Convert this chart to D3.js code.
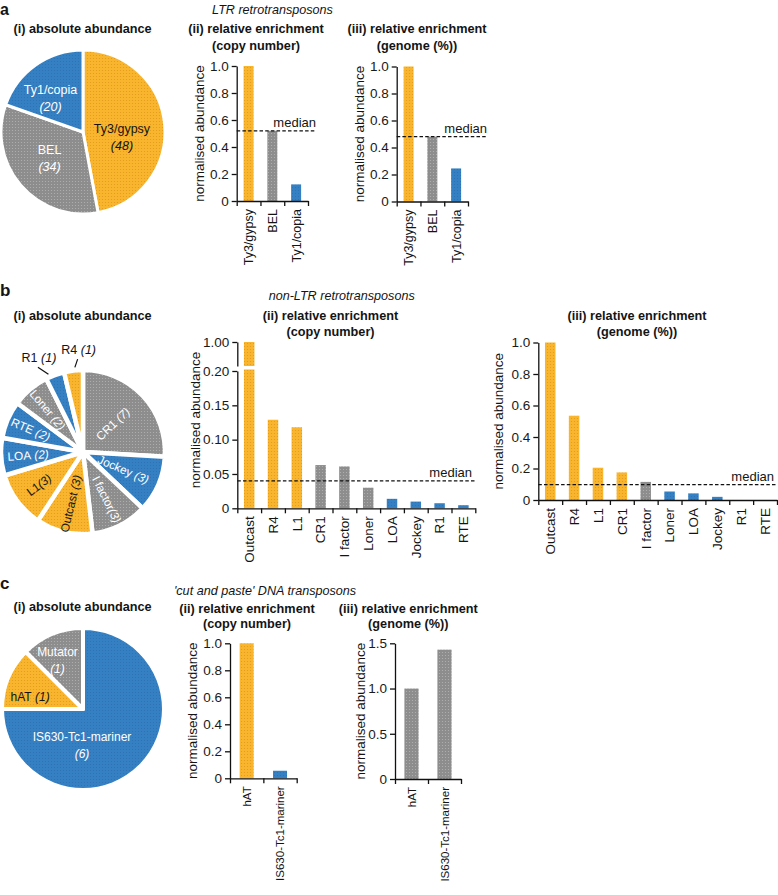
<!DOCTYPE html>
<html><head><meta charset="utf-8">
<script src="https://cdn.jsdelivr.net/npm/d3@7"></script>
<style>
body{margin:0;background:#fff;}
svg{display:block;font-family:"Liberation Sans",Arial,Helvetica,sans-serif;}
.axis path,.axis line{stroke:#111;stroke-width:1.3px;}
.axis text{font-size:13.5px;fill:#1a1a1a;font-family:"Liberation Sans",Arial,sans-serif;}
</style></head><body>
<script>
// ---------------- DATA ----------------
const ltrFamilies = ["Ty3/gypsy","BEL","Ty1/copia"];
const ltrCounts = [48,34,20];
const ltrPieColors = ["Y","G","B"];
const ltrCopyValues = [1.0,0.52,0.123];
const ltrCopyColors = ["Y","G","B"];
const ltrCopyMedian = 0.52;
const ltrGenomeValues = [1.0,0.48,0.245];
const ltrGenomeColors = ["Y","G","B"];
const ltrGenomeMedian = 0.48;
const ltrTicks = [0,0.2,0.4,0.6,0.8,1.0];

const nonLtrPieFamilies = ["CR1","Jockey","I factor","Outcast","L1","LOA","RTE","Loner","R1","R4"];
const nonLtrPieCounts = [7,3,3,3,3,2,2,2,1,1];
const nonLtrPieColors = ["G","B","G","Y","Y","B","B","G","B","Y"];
const nonLtrBarFamilies = ["Outcast","R4","L1","CR1","I factor","Loner","LOA","Jockey","R1","RTE"];
const nonLtrCopyValues = [1.0,0.129,0.118,0.063,0.061,0.030,0.0138,0.0098,0.0074,0.0045];
const nonLtrCopyColors = ["Y","Y","Y","G","G","G","B","B","B","B"];
const nonLtrCopyMedian = 0.040;
const nonLtrCopyTicksLow = [0,0.05,0.10,0.15,0.20];
const nonLtrCopyTicksHigh = [1.00];
const nonLtrGenomeValues = [1.0,0.535,0.205,0.175,0.115,0.054,0.042,0.02,0,0];
const nonLtrGenomeColors = ["Y","Y","Y","Y","G","B","B","B","B","B"];
const nonLtrGenomeMedian = 0.097;
const nonLtrGenomeTicks = [0,0.2,0.4,0.6,0.8,1.0];

const dnaPieFamilies = ["IS630-Tc1-mariner","hAT","Mutator"];
const dnaPieCounts = [6,1,1];
const dnaPieColors = ["B","Y","G"];
const dnaBarFamilies = ["hAT","IS630-Tc1-mariner"];
const dnaCopyValues = [1.0,0.056];
const dnaCopyColors = ["Y","B"];
const dnaGenomeValues = [1.0,1.43];
const dnaGenomeColors = ["G","G"];
const dnaCopyTicks = [0,0.2,0.4,0.6,0.8,1.0];
const dnaGenomeTicks = [0,0.5,1.0,1.5];

// ---------------- SETUP ----------------
const W = 778, H = 895;
const svg = d3.select("body").append("svg").attr("width",W).attr("height",H);
const defs = svg.append("defs");
const palette = {
  Y:{base:"#F8B52D",dot:"#E2981C"},
  G:{base:"#8D8D8D",dot:"#B3B3B3"},
  B:{base:"#3580C3",dot:"#2B6FAF"}
};
Object.entries(palette).forEach(([k,c])=>{
  const p = defs.append("pattern").attr("id","pat"+k).attr("patternUnits","userSpaceOnUse")
    .attr("width",3).attr("height",3);
  p.append("rect").attr("width",3).attr("height",3).attr("fill",c.base);
  p.append("circle").attr("cx",1.5).attr("cy",1.5).attr("r",0.6).attr("fill",c.dot);
});
const fill = k => `url(#pat${k})`;
const INK = "#141414";

function text(x,y,str,opts={}){
  const t = svg.append("text").attr("x",x).attr("y",y)
    .attr("text-anchor",opts.anchor||"middle")
    .style("font-size",(opts.size||12.7)+"px")
    .style("font-weight",opts.bold?"bold":"normal")
    .style("font-style",opts.italic?"italic":"normal")
    .attr("fill",opts.fill||INK).text(str);
  return t;
}
function title2(cx,y1,y2,l1,l2){
  text(cx,y1,l1,{bold:true});
  text(cx,y2,l2,{bold:true});
}

function styleAxis(sel){ sel.attr("class","axis"); sel.select(".domain").attr("stroke","#111"); }

function barChart(cfg){
  const g = svg.append("g");
  const n = cfg.cats.length;
  const x = d3.scaleBand().domain(cfg.cats).range([cfg.x0,cfg.x1]).paddingInner(cfg.pad).paddingOuter(cfg.pad/2);
  const y = d3.scaleLinear().domain([0,cfg.yMax]).range([cfg.yZero,cfg.yTop]);
  g.selectAll("rect.bar").data(cfg.values).join("rect").attr("class","bar")
    .attr("x",(d,i)=>x(cfg.cats[i])).attr("width",x.bandwidth())
    .attr("y",d=>y(d)).attr("height",d=>cfg.yZero-y(d))
    .attr("fill",(d,i)=>fill(cfg.colors[i]));
  const ya = g.append("g").attr("transform",`translate(${cfg.x0},0)`)
    .call(d3.axisLeft(y).tickValues(cfg.ticks).tickFormat(cfg.fmt).tickSize(5).tickSizeOuter(0));
  styleAxis(ya);
  const xi = d3.scaleLinear().domain([0,n]).range([cfg.x0,cfg.x1]);
  const xa = g.append("g").attr("transform",`translate(0,${cfg.yZero})`)
    .call(d3.axisBottom(xi).tickValues(d3.range(n+1)).tickFormat("").tickSize(5).tickSizeOuter(0));
  styleAxis(xa);
  g.selectAll("text.cat").data(cfg.cats).join("text").attr("class","cat")
    .attr("transform",d=>`translate(${x(d)+x.bandwidth()/2},${cfg.yZero+8}) rotate(-90)`)
    .attr("text-anchor","end").attr("dy","0.36em")
    .style("font-size",cfg.catSize+"px").attr("fill",INK).text(d=>d);
  g.append("text").attr("transform",`translate(${cfg.x0-cfg.ylabOff},${(cfg.yZero+cfg.yTop)/2}) rotate(-90)`)
    .attr("text-anchor","middle").style("font-size","13.5px").attr("fill",INK).text("normalised abundance");
  if(cfg.median!==undefined){
    const ym = y(cfg.median);
    g.append("line").attr("x1",cfg.x0).attr("x2",cfg.medEnd).attr("y1",ym).attr("y2",ym)
      .attr("stroke","#111").attr("stroke-width",1.2).attr("stroke-dasharray","3.5,2.2");
    g.append("text").attr("x",cfg.medLabelX).attr("y",ym-4).attr("text-anchor","end")
      .style("font-size","13px").attr("fill",INK).text("median");
  }
  return {x,y,g};
}
const fmt1 = d => d===0 ? "0" : d3.format(".1f")(d);
const fmt2 = d => d===0 ? "0" : d3.format(".2f")(d);

function polar(r,deg){ const a = deg*Math.PI/180; return [r*Math.sin(a), -r*Math.cos(a)]; }
function pieChart(cfg){
  const g = svg.append("g").attr("transform",`translate(${cfg.cx},${cfg.cy})`);
  const arcs = d3.pie().sort(null).value(d=>d)(cfg.counts);
  const arc = d3.arc().innerRadius(0).outerRadius(cfg.r);
  g.selectAll("path").data(arcs).join("path").attr("d",arc)
    .attr("fill",(d,i)=>fill(cfg.colors[i]))
    .attr("stroke","#fff").attr("stroke-width",cfg.gap).attr("stroke-linejoin","round");
  return {g,arcs};
}
const midDeg = a => (a.startAngle+a.endAngle)/2*180/Math.PI;

// ================= PANEL A =================
text(0,14.5,"a",{anchor:"start",bold:true,size:16});
text(272.5,14,"LTR retrotransposons",{italic:true,size:12.6});
text(82.5,33,"(i) absolute abundance",{bold:true});
title2(256,33,49.5,"(ii) relative enrichment","(copy number)");
title2(417,33,49.5,"(iii) relative enrichment","(genome (%))");

{
  const {g,arcs} = pieChart({cx:83,cy:132,r:82,counts:ltrCounts,colors:ltrPieColors,gap:3});
  const place = [{r:39.3,a:97.3},{r:42.1,a:232.7},{r:46.7,a:315.9}];
  arcs.forEach((a,i)=>{
    const [px,py] = polar(place[i].r, place[i].a);
    const col = ltrPieColors[i]==="Y" ? INK : "#fff";
    g.append("text").attr("x",px).attr("y",py-4).attr("text-anchor","middle")
      .style("font-size","12.5px").attr("fill",col).text(ltrFamilies[i]);
    g.append("text").attr("x",px).attr("y",py+13).attr("text-anchor","middle")
      .style("font-size","12.5px").style("font-style","italic").attr("fill",col).text(`(${ltrCounts[i]})`);
  });
}
barChart({cats:ltrFamilies,values:ltrCopyValues,colors:ltrCopyColors,x0:236.7,x1:308,pad:0.58,
  yZero:201,yTop:66,yMax:1,ticks:ltrTicks,fmt:fmt1,catSize:12.5,ylabOff:33,
  median:ltrCopyMedian,medEnd:316,medLabelX:316});
barChart({cats:ltrFamilies,values:ltrGenomeValues,colors:ltrGenomeColors,x0:396.7,x1:468,pad:0.58,
  yZero:201.5,yTop:66.5,yMax:1,ticks:ltrTicks,fmt:fmt1,catSize:12.5,ylabOff:33,
  median:ltrGenomeMedian,medEnd:487,medLabelX:487});

// ================= PANEL B =================
text(0,296,"b",{anchor:"start",bold:true,size:17});
text(341.7,299.5,"non-LTR retrotransposons",{italic:true,size:12.6});
text(82.5,319.5,"(i) absolute abundance",{bold:true});
title2(330.5,319.5,336,"(ii) relative enrichment","(copy number)");
title2(637,319.5,335.5,"(iii) relative enrichment","(genome (%))");

{
  const {g,arcs} = pieChart({cx:83,cy:452,r:82,counts:nonLtrPieCounts,colors:nonLtrPieColors,gap:4.5});
  const labelR = [41,44,53,53,55,55,57,55];
  arcs.forEach((a,i)=>{
    if(i>=8) return;
    const deg = midDeg(a);
    const [px,py] = polar(labelR[i],deg);
    const rot = deg<180 ? deg-90 : deg-270;
    const col = nonLtrPieColors[i]==="Y" ? INK : "#fff";
    const t = g.append("text").attr("transform",`translate(${px},${py}) rotate(${rot})`)
      .attr("text-anchor","middle").attr("dy","0.36em").style("font-size","11.8px").attr("fill",col);
    t.append("tspan").text(nonLtrPieFamilies[i]);
    const sep = (nonLtrPieFamilies[i]==="L1"||nonLtrPieFamilies[i]==="I factor") ? "" : " ";
    t.append("tspan").style("font-style","italic").text(sep+`(${nonLtrPieCounts[i]})`);
  });
  // outside labels with leader lines (R1, R4)
  const outside = [{i:8,a1:336,r1:85,a2:332,r2:96},{i:9,a1:354.5,r1:85,a2:356.7,r2:93}];
  outside.forEach(o=>{
    const [x1,y1] = polar(o.r1,o.a1), [x2,y2] = polar(o.r2,o.a2);
    g.append("line").attr("x1",x1).attr("y1",y1).attr("x2",x2).attr("y2",y2).attr("stroke","#111").attr("stroke-width",1.2);
    const t = g.append("text").attr("x",x2+1).attr("y",y2-5.5).attr("text-anchor","middle")
      .style("font-size","12.5px").attr("fill",INK);
    t.append("tspan").text(nonLtrPieFamilies[o.i]);
    t.append("tspan").style("font-style","italic").text(` (${nonLtrPieCounts[o.i]})`);
  });
}

// b(ii) broken-axis chart
{
  const x0=237.3,x1=475.3,yZero=508.3,pad=0.56,n=nonLtrBarFamilies.length;
  const g = svg.append("g");
  const x = d3.scaleBand().domain(nonLtrBarFamilies).range([x0,x1]).paddingInner(pad).paddingOuter(pad/2);
  const yL = d3.scaleLinear().domain([0,0.20]).range([yZero,371]);
  const yU = d3.scaleLinear().domain([0.9,1.0]).range([366,342]);
  const brkTop = 366, brkBot = 369.5;
  g.selectAll("rect.lo").data(nonLtrCopyValues).join("rect")
    .attr("x",(d,i)=>x(nonLtrBarFamilies[i])).attr("width",x.bandwidth())
    .attr("y",d=>d>0.2?brkBot:yL(d)).attr("height",d=>yZero-(d>0.2?brkBot:yL(d)))
    .attr("fill",(d,i)=>fill(nonLtrCopyColors[i]));
  g.selectAll("rect.hi").data(nonLtrCopyValues.filter(d=>d>0.2)).join("rect")
    .attr("x",(d)=>x(nonLtrBarFamilies[nonLtrCopyValues.indexOf(d)])).attr("width",x.bandwidth())
    .attr("y",d=>yU(d)).attr("height",d=>brkTop-yU(d))
    .attr("fill",d=>fill(nonLtrCopyColors[nonLtrCopyValues.indexOf(d)]));
  const ya = g.append("g").attr("transform",`translate(${x0},0)`)
    .call(d3.axisLeft(yL).tickValues(nonLtrCopyTicksLow).tickFormat(fmt2).tickSize(5).tickSizeOuter(0));
  styleAxis(ya);
  const yb = g.append("g").attr("transform",`translate(${x0},0)`)
    .call(d3.axisLeft(yU).tickValues(nonLtrCopyTicksHigh).tickFormat(fmt2).tickSize(5).tickSizeOuter(0));
  styleAxis(yb);
  yb.selectAll("text").attr("fill","#6f5a18");
  const xi = d3.scaleLinear().domain([0,n]).range([x0,x1]);
  const xa = g.append("g").attr("transform",`translate(0,${yZero})`)
    .call(d3.axisBottom(xi).tickValues(d3.range(n+1)).tickFormat("").tickSize(5).tickSizeOuter(0));
  styleAxis(xa);
  g.selectAll("text.cat").data(nonLtrBarFamilies).join("text").attr("class","cat")
    .attr("transform",d=>`translate(${x(d)+x.bandwidth()/2},${yZero+8}) rotate(-90)`)
    .attr("text-anchor","end").attr("dy","0.36em").style("font-size","13.5px").attr("fill",INK).text(d=>d);
  g.append("text").attr("transform",`translate(${x0-37},420) rotate(-90)`)
    .attr("text-anchor","middle").style("font-size","13.5px").attr("fill",INK).text("normalised abundance");
  const ym = yL(nonLtrCopyMedian);
  g.append("line").attr("x1",x0).attr("x2",475.3).attr("y1",ym).attr("y2",ym)
    .attr("stroke","#111").attr("stroke-width",1.2).attr("stroke-dasharray","3.5,2.2");
  g.append("text").attr("x",472).attr("y",ym-4).attr("text-anchor","end")
    .style("font-size","13px").attr("fill",INK).text("median");
}
barChart({cats:nonLtrBarFamilies,values:nonLtrGenomeValues,colors:nonLtrGenomeColors,x0:538.3,x1:777,pad:0.56,
  yZero:500,yTop:342.5,yMax:1,ticks:nonLtrGenomeTicks,fmt:fmt1,catSize:13.5,ylabOff:35,
  median:nonLtrGenomeMedian,medEnd:777,medLabelX:774});

// ================= PANEL C =================
text(0,589,"c",{anchor:"start",bold:true,size:17});
text(265,594.5,"'cut and paste' DNA transposons",{italic:true,size:12.6});
text(82.5,611,"(i) absolute abundance",{bold:true});
title2(247,612.8,628,"(ii) relative enrichment","(copy number)");
title2(408.3,612.8,628,"(iii) relative enrichment","(genome (%))");
{
  const {g,arcs} = pieChart({cx:83,cy:709,r:81,counts:dnaPieCounts,colors:dnaPieColors,gap:4});
  const place = [{r:36.5,a:181.6,two:true},{r:54.3,a:282.8,two:false},{r:55.7,a:332.7,two:true}];
  arcs.forEach((a,i)=>{
    const [px,py] = polar(place[i].r,place[i].a);
    const col = dnaPieColors[i]==="Y" ? INK : "#fff";
    if(place[i].two){
      g.append("text").attr("x",px).attr("y",py-4).attr("text-anchor","middle")
        .style("font-size","12px").attr("fill",col).text(dnaPieFamilies[i]);
      g.append("text").attr("x",px).attr("y",py+13).attr("text-anchor","middle")
        .style("font-size","12px").style("font-style","italic").attr("fill",col).text(`(${dnaPieCounts[i]})`);
    } else {
      const t = g.append("text").attr("x",px).attr("y",py).attr("dy","0.36em").attr("text-anchor","middle")
        .style("font-size","12px").attr("fill",col);
      t.append("tspan").text(dnaPieFamilies[i]);
      t.append("tspan").style("font-style","italic").text(` (${dnaPieCounts[i]})`);
    }
  });
}
barChart({cats:dnaBarFamilies,values:dnaCopyValues,colors:dnaCopyColors,x0:230,x1:296.7,pad:0.58,
  yZero:778.3,yTop:643.3,yMax:1,ticks:dnaCopyTicks,fmt:fmt1,catSize:11.5,ylabOff:33});
barChart({cats:dnaBarFamilies,values:dnaGenomeValues,colors:dnaGenomeColors,x0:395,x1:461,pad:0.57,
  yZero:779,yTop:643.3,yMax:1.5,ticks:dnaGenomeTicks,fmt:fmt1,catSize:11.5,ylabOff:30});
</script>
</body></html>
